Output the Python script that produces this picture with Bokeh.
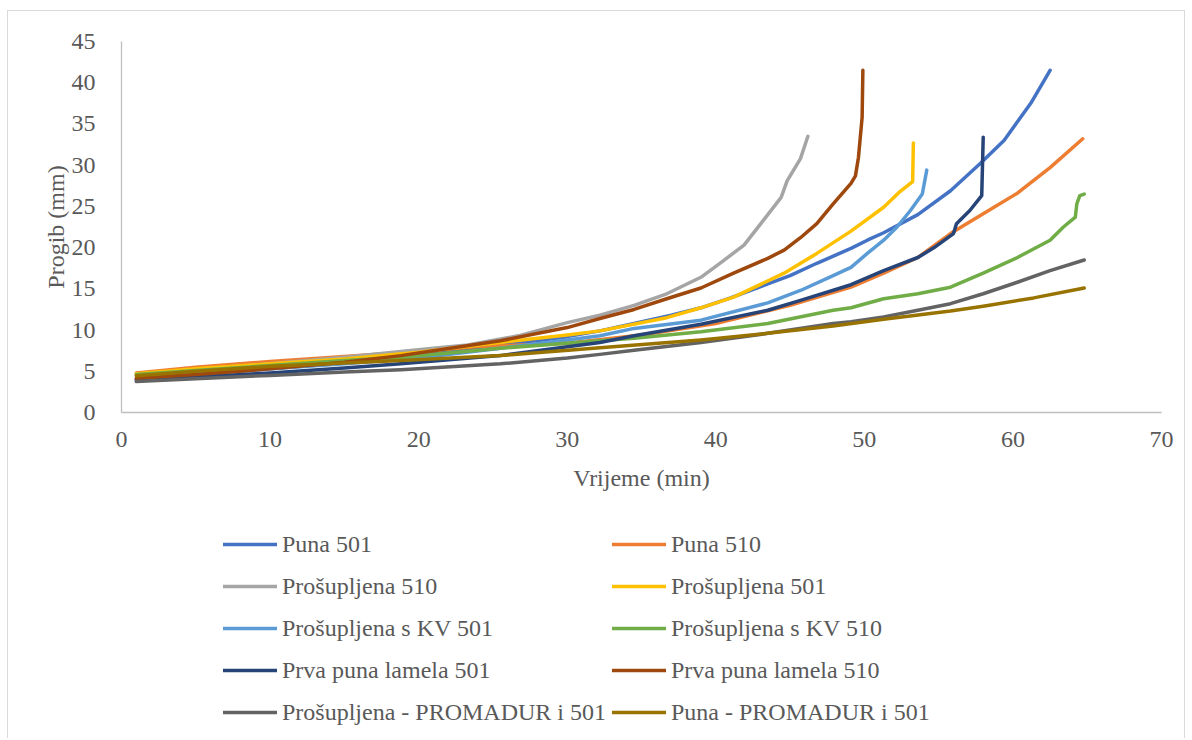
from bokeh.plotting import figure
from bokeh.models import Legend, LegendItem, FixedTicker
from bokeh.layouts import column
from bokeh.embed import file_html
from bokeh.resources import INLINE

# ---- data ----
names = ["Puna 501", "Puna 510", "Prošupljena 510", "Prošupljena 501",
         "Prošupljena s KV 501", "Prošupljena s KV 510",
         "Prva puna lamela 501", "Prva puna lamela 510",
         "Prošupljena - PROMADUR i 501", "Puna - PROMADUR i 501"]
colors = ["#4472C4", "#ED7D31", "#A5A5A5", "#FFC000", "#5B9BD5",
          "#70AD47", "#264478", "#9E480E", "#636363", "#997300"]

x_puna501 = [1, 5, 10, 15, 20, 25, 30, 32.2, 34.5, 37, 39, 41, 43.5, 45, 46.8, 49.1, 50.2, 51.3, 53.6, 55.8, 57.8, 59.4, 61.2, 62.5]
y_puna501 = [4.0, 4.6, 5.3, 6.0, 6.9, 8.0, 9.2, 9.9, 10.8, 11.8, 12.7, 13.9, 15.6, 16.6, 18.1, 19.9, 20.9, 21.8, 24.0, 26.9, 30.2, 33.0, 37.5, 41.5]

x_puna510 = [1, 5, 10, 15, 20, 24, 30, 35, 40, 45, 49.1, 51.3, 53.6, 55.8, 58, 60.3, 62.5, 64.7]
y_puna510 = [4.8, 5.5, 6.2, 6.8, 7.4, 8.0, 8.4, 9.4, 10.8, 13.0, 15.2, 16.9, 18.8, 21.7, 24.1, 26.6, 29.7, 33.2]

x_prosup510 = [1, 5, 10, 15, 18.8, 21, 23.3, 26.7, 30, 32.2, 34.5, 36.7, 39, 40.5, 41.9, 43.2, 44.4, 44.8, 45.7, 46.2]
y_prosup510 = [4.5, 5.2, 5.9, 6.7, 7.4, 7.8, 8.2, 9.3, 10.9, 11.8, 13.0, 14.4, 16.4, 18.4, 20.3, 23.3, 26.1, 28.1, 30.8, 33.5]

x_prosup501 = [1, 5, 10, 15, 20, 25, 30, 32.2, 36.7, 39, 41.2, 44.6, 46.8, 49.1, 51.3, 52.4, 53.25, 53.3]
y_prosup501 = [4.7, 5.3, 5.9, 6.5, 7.3, 8.4, 9.4, 9.9, 11.5, 12.7, 14.0, 16.9, 19.3, 22.0, 24.9, 26.8, 28.0, 32.7]

x_kv501 = [1, 5, 10, 15, 20, 25.5, 30, 32.2, 34.5, 39, 43.5, 45.7, 47.9, 49.1, 50.2, 51.3, 52.2, 53.1, 53.9, 54.2]
y_kv501 = [4.1, 4.7, 5.3, 5.9, 6.6, 7.8, 8.8, 9.3, 10.2, 11.2, 13.3, 14.8, 16.6, 17.6, 19.3, 20.9, 22.5, 24.5, 26.5, 29.4]

x_kv510 = [1, 5, 10, 15, 18.8, 25.5, 32.2, 34.5, 39, 43.5, 47.9, 49.1, 51.3, 53.6, 55.8, 58, 60.3, 62.5, 63.4, 64.2, 64.3, 64.5, 64.8]
y_kv510 = [4.6, 5.1, 5.7, 6.3, 6.7, 7.8, 8.7, 9.0, 9.8, 10.8, 12.4, 12.7, 13.8, 14.4, 15.2, 16.9, 18.8, 20.9, 22.5, 23.7, 25.3, 26.3, 26.5]

x_prva501 = [1, 5, 10, 15, 18.8, 25.5, 32.2, 34.5, 39, 43.5, 45.7, 49.1, 51.3, 53.6, 54.7, 56.0, 56.2, 57.1, 57.9, 58.0]
y_prva501 = [3.9, 4.3, 4.8, 5.4, 5.9, 6.9, 8.5, 9.3, 10.7, 12.4, 13.6, 15.5, 17.2, 18.8, 20.0, 21.7, 22.9, 24.5, 26.3, 33.4]

x_prva510 = [1, 5, 10, 15, 18.8, 21, 25.5, 30, 32.2, 34.5, 36.7, 39, 41.2, 43.5, 44.6, 45.7, 46.8, 47.9, 49.1, 49.4, 49.6, 49.85, 49.9]
y_prva510 = [4.15, 4.6, 5.3, 6.1, 6.9, 7.5, 8.7, 10.3, 11.4, 12.5, 13.8, 15.1, 16.9, 18.7, 19.7, 21.2, 22.9, 25.3, 27.8, 28.7, 30.9, 35.8, 41.5]

x_promadur_pros = [1, 5, 10, 15, 18.8, 25.5, 30, 32.2, 34.5, 39, 43.5, 47.9, 49.1, 51.3, 53.6, 55.8, 58, 60.3, 62.5, 64.8]
y_promadur_pros = [3.75, 4.1, 4.5, 4.9, 5.2, 5.9, 6.6, 7.05, 7.55, 8.5, 9.6, 10.8, 11.0, 11.6, 12.4, 13.2, 14.4, 15.8, 17.2, 18.5]

x_promadur_puna = [1, 5, 10, 15, 18.8, 25.5, 32.2, 39, 43.5, 47.9, 51.3, 55.8, 58, 61.4, 64.8]
y_promadur_puna = [4.45, 5.0, 5.6, 6.0, 6.3, 6.9, 7.85, 8.8, 9.6, 10.5, 11.3, 12.3, 12.9, 13.9, 15.1]

xs = [x_puna501, x_puna510, x_prosup510, x_prosup501, x_kv501, x_kv510,
      x_prva501, x_prva510, x_promadur_pros, x_promadur_puna]
ys = [y_puna501, y_puna510, y_prosup510, y_prosup501, y_kv501, y_kv510,
      y_prva501, y_prva510, y_promadur_pros, y_promadur_puna]

x_ticks = [0, 10, 20, 30, 40, 50, 60, 70]
y_ticks = [0, 5, 10, 15, 20, 25, 30, 35, 40, 45]

FONT = "Liberation Serif"
TXT = "#595959"

# ---- main chart (content starts at page x=8, y=11 inside the border) ----
p = figure(width=1176, height=494, x_range=(0, 70), y_range=(0, 45),
           output_backend="svg", toolbar_location=None,
           min_border_left=113, min_border_right=23,
           min_border_top=30, min_border_bottom=93)
p.outline_line_color = None
p.xgrid.visible = False
p.ygrid.visible = False

for ax, ticks in ((p.xaxis[0], x_ticks), (p.yaxis[0], y_ticks)):
    ax.ticker = FixedTicker(ticks=ticks)
    ax.axis_line_color = "#BFBFBF"
    ax.axis_line_width = 1.3
    ax.major_tick_line_color = None
    ax.minor_tick_line_color = None
    ax.major_label_text_font = FONT
    ax.major_label_text_font_size = "24px"
    ax.major_label_text_color = TXT
    ax.axis_label_text_font = FONT
    ax.axis_label_text_font_size = "24px"
    ax.axis_label_text_color = TXT
    ax.axis_label_text_font_style = "normal"

p.xaxis.axis_label = "Vrijeme (min)"
p.yaxis.axis_label = "Progib (mm)"
p.xaxis.major_label_standoff = 13
p.xaxis.axis_label_standoff = 15
p.yaxis.major_label_standoff = 20
p.yaxis.axis_label_standoff = 0

for col, xv, yv in zip(colors, xs, ys):
    p.line(xv, yv, line_color=col, line_width=3.5, line_join="round", line_cap="round")

# ---- legend panel (a second figure holding only the legend) ----
q = figure(width=1176, height=233, x_range=(1000, 1001), y_range=(1000, 1001),
           output_backend="svg", toolbar_location=None,
           min_border=0)
q.axis.visible = False
q.grid.visible = False
q.outline_line_color = None

items = []
for name, col, xv, yv in zip(names, colors, xs, ys):
    r = q.line(xv, yv, line_color=col, line_width=3.5, line_cap="round")
    items.append(LegendItem(label=name, renderers=[r]))

def make_legend(its, loc):
    return Legend(items=its, location=loc, orientation="vertical",
                  padding=0, margin=0, spacing=14,
                  glyph_width=54, glyph_height=28, label_height=28,
                  label_standoff=5,
                  label_text_font=FONT, label_text_font_size="24px",
                  label_text_color=TXT,
                  border_line_color=None, background_fill_alpha=0)

q.add_layout(make_legend(items[0::2], (102, 12)), "center")
q.add_layout(make_legend(items[1::2], (491, 12)), "center")

layout = column(p, q, spacing=0)
layout.styles = {"margin-left": "7px", "margin-top": "10px",
                 "border": "1px solid #d9d9d9", "border-bottom": "none"}

open("out.html", "w").write(file_html(layout, INLINE))
